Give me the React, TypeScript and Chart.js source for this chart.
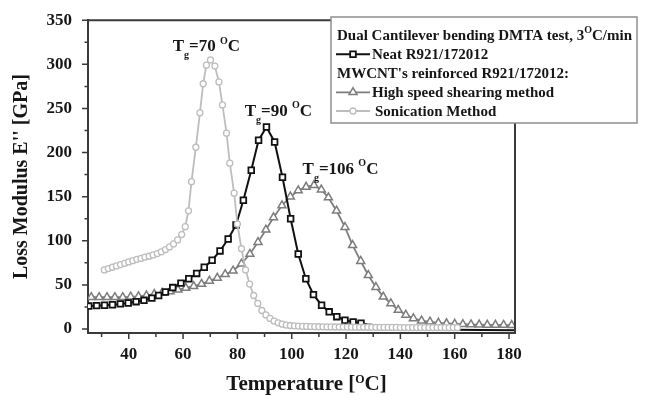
import React, { useEffect, useRef } from 'react';
import { Chart, registerables } from 'chart.js';

Chart.register(...registerables);

// ---------------- data ----------------
const neatT = [25.3, 28.2, 31.1, 34, 36.9, 39.8, 42.7, 45.6, 48.5, 51, 53.5, 56.2, 59.2, 62.1, 65, 67.8, 70.7, 73.6, 76.6, 79.5, 82.2, 85.1, 87.8, 90.7, 93.7, 96.6, 99.6, 102.4, 105.2, 108, 111, 113.8, 116.6, 119.6, 122.6, 125.5, 128.5, 131.5, 134.5, 138, 142, 146, 150, 155, 160, 170, 182];
const neatV = [26, 26.5, 27, 27.5, 28.5, 29.5, 31, 32.5, 35, 38, 42, 47, 52, 57, 63, 70, 78, 88.5, 102, 118, 146, 180, 214, 229, 212, 172, 125, 85, 57, 39, 27, 19.5, 14, 10, 8, 6.5, 5, 4, 3, 2.2, 1.4, 0.8, 0.3, -0.3, -0.8, -1.2, -1.5];
const neatMarkedUntil = 126;

const shearT = [26.2, 29.1, 32, 34.9, 37.8, 40.7, 43.6, 46.5, 49.4, 52.3, 55.2, 58.1, 61, 63.9, 66.8, 69.7, 72.6, 75.5, 78.4, 81.5, 84.6, 87.6, 90.5, 93.3, 96.4, 99.5, 102.4, 105.3, 108.2, 110.9, 113.5, 116.5, 119.6, 122.4, 125.4, 128.2, 131, 133.7, 136.5, 139.2, 142, 144.8, 147.8, 150.9, 154, 157, 160, 163, 166, 169, 172, 175, 178, 181];
const shearV = [36, 36, 36, 36, 36, 36.5, 37, 38, 39.5, 41, 42.5, 44.5, 46.5, 48.5, 51, 54.5, 58, 62, 66, 74, 85, 98.5, 112.5, 126.5, 140, 150, 157, 161, 163, 158, 149, 134, 115.5, 95, 77, 61, 47.5, 36.5, 29, 21.5, 16, 12, 9.5, 8.2, 7, 6.3, 5.8, 5.4, 5.1, 4.9, 4.7, 4.6, 4.5, 4.4];

const sonT = [31, 32.5, 34, 35.5, 37, 38.5, 40, 41.5, 43, 44.5, 46, 47.5, 49, 50.5, 52, 53.5, 55, 56.5, 58, 59.5, 60.8, 62, 63.1, 64.7, 66.2, 67.4, 68.6, 70.1, 71.7, 73.2, 74.5, 76, 77.2, 78.8, 80, 81.5, 83, 84.5, 86, 87.5, 89, 90.5, 92, 93.5, 95, 96.5, 98, 99.5, 101, 102.5, 104, 105.5, 107, 108.5, 110, 111.5, 113, 114.5, 116, 117.5, 119, 120.5, 122, 123.5, 125, 126.5, 128, 129.5, 131, 132.5, 134, 135.5, 137, 138.5, 140, 141.5, 143, 144.5, 146, 147.5, 149, 150.5, 152, 153.5, 155, 156.5, 158, 159.5, 161];
const sonV = [67, 68.5, 70, 71.5, 73, 74.5, 76, 77.5, 79, 80, 81.5, 82.5, 84, 85.5, 87.5, 90, 93, 96.5, 101, 107, 116, 134, 167, 206, 245, 278, 299, 305, 298, 280, 254, 222, 188, 154, 119, 91, 67, 51, 38, 29, 21, 16, 12, 9, 7, 5.5, 4.5, 4, 3.6, 3.3, 3.1, 2.9, 2.8, 2.7, 2.6, 2.5, 2.4, 2.4, 2.3, 2.3, 2.2, 2.2, 2.1, 2.1, 2, 2, 2, 1.9, 1.9, 1.9, 1.8, 1.8, 1.8, 1.8, 1.7, 1.7, 1.7, 1.7, 1.7, 1.6, 1.6, 1.6, 1.6, 1.6, 1.6, 1.5, 1.5, 1.5, 1.5];

const seriesLabels = ['Neat R921/172012', 'High speed shearing method', 'Sonication Method'];
const legendHeader = 'Dual Cantilever bending DMTA test, 3';
const legendHeaderTail = 'C/min';
const legendSubHeader = "MWCNT's reinforced R921/172012:";

const xTickValues = [40, 60, 80, 100, 120, 140, 160, 180];
const xMinorValues = [30, 50, 70, 90, 110, 130, 150, 170];
const yTickValues = [0, 50, 100, 150, 200, 250, 300, 350];
const yMinorValues = [25, 75, 125, 175, 225, 275, 325];

const xTitleMain = 'Temperature [';
const xTitleTail = 'C]';
const yTitle = "Loss Modulus E'' [GPa]";

// Tg annotations: anchor (temperature, modulus) of the text baseline start
const tgAnchorT = [56.2, 82.7, 104];
const tgAnchorV = [315, 241.5, 176];
const tgValues = ['70', '90', '106'];

// ---------------- styles ----------------
const FONT = '"Liberation Serif", "Times New Roman", serif';
const AXIS_COLOR = '#3a3a3a';
const TEXT_COLOR = '#161616';
const NEAT_COLOR = '#111111';
const SHEAR_COLOR = '#7d7d7d';
const SON_COLOR = '#bdbdbd';

type Part = { t: string; size: number; dy: number };

function drawRich(ctx: CanvasRenderingContext2D, x: number, y: number, parts: Part[]) {
  let cx = x;
  for (const p of parts) {
    ctx.font = `bold ${p.size}px ${FONT}`;
    ctx.fillText(p.t, cx, y + p.dy);
    cx += ctx.measureText(p.t).width;
  }
  return cx - x;
}

function richWidth(ctx: CanvasRenderingContext2D, parts: Part[]) {
  let w = 0;
  for (const p of parts) {
    ctx.font = `bold ${p.size}px ${FONT}`;
    w += ctx.measureText(p.t).width;
  }
  return w;
}

function drawMarker(ctx: CanvasRenderingContext2D, style: string, x: number, y: number, r: number, color: string, lw: number) {
  ctx.save();
  ctx.fillStyle = '#ffffff';
  ctx.strokeStyle = color;
  ctx.lineWidth = lw;
  ctx.beginPath();
  if (style === 'rect') {
    const s = Math.SQRT1_2 * r;
    ctx.rect(x - s, y - s, 2 * s, 2 * s);
  } else if (style === 'triangle') {
    ctx.moveTo(x, y - r);
    ctx.lineTo(x + r * Math.sin(Math.PI / 3), y + r * 0.5);
    ctx.lineTo(x - r * Math.sin(Math.PI / 3), y + r * 0.5);
    ctx.closePath();
  } else {
    ctx.arc(x, y, r, 0, Math.PI * 2);
  }
  ctx.fill();
  ctx.stroke();
  ctx.restore();
}

const decorPlugin = {
  id: 'decor',
  afterDraw(chart: any) {
    const ctx: CanvasRenderingContext2D = chart.ctx;
    const { left, right, top, bottom } = chart.chartArea;
    const xs = chart.scales.x;
    const ys = chart.scales.y;
    ctx.save();

    // frame (top + right)
    ctx.strokeStyle = AXIS_COLOR;
    ctx.lineWidth = 2;
    ctx.beginPath();
    ctx.moveTo(left, top);
    ctx.lineTo(right, top);
    ctx.lineTo(right, bottom);
    ctx.stroke();

    // ticks
    ctx.lineWidth = 1.5;
    ctx.beginPath();
    for (const v of yTickValues) {
      const y = ys.getPixelForValue(v);
      ctx.moveTo(left - 6, y);
      ctx.lineTo(left, y);
    }
    for (const v of yMinorValues) {
      const y = ys.getPixelForValue(v);
      ctx.moveTo(left - 3.5, y);
      ctx.lineTo(left, y);
    }
    for (const v of xTickValues) {
      const x = xs.getPixelForValue(v);
      ctx.moveTo(x, bottom);
      ctx.lineTo(x, bottom + 6);
    }
    for (const v of xMinorValues) {
      const x = xs.getPixelForValue(v);
      ctx.moveTo(x, bottom);
      ctx.lineTo(x, bottom + 4);
    }
    ctx.stroke();

    ctx.fillStyle = TEXT_COLOR;
    ctx.textAlign = 'left';
    ctx.textBaseline = 'alphabetic';

    // x title
    const xParts: Part[] = [
      { t: xTitleMain, size: 21, dy: 0 },
      { t: 'O', size: 12, dy: -6.5 },
      { t: xTitleTail, size: 21, dy: 0 },
    ];
    const xw = richWidth(ctx, xParts);
    drawRich(ctx, (left + right) / 2 + 5 - xw / 2, 389.5, xParts);

    // Tg annotations
    for (let i = 0; i < tgValues.length; i++) {
      const ax = xs.getPixelForValue(tgAnchorT[i]);
      const ay = ys.getPixelForValue(tgAnchorV[i]);
      drawRich(ctx, ax, ay, [
        { t: 'T', size: 17, dy: 0 },
        { t: 'g', size: 10, dy: 7 },
        { t: '=' + tgValues[i] + ' ', size: 17, dy: 0 },
        { t: 'O', size: 10, dy: -7.5 },
        { t: 'C', size: 17, dy: 0 },
      ]);
    }

    // legend box
    const bx = 331, by = 17, bw = 306, bh = 106;
    ctx.fillStyle = '#ffffff';
    ctx.fillRect(bx, by, bw, bh);
    ctx.strokeStyle = '#8f8f8f';
    ctx.lineWidth = 1.5;
    ctx.strokeRect(bx, by, bw, bh);

    ctx.fillStyle = TEXT_COLOR;
    const tx = bx + 6;
    const base = [40, 59.3, 78.3, 97.3, 116];
    drawRich(ctx, tx, base[0], [
      { t: legendHeader, size: 15, dy: 0 },
      { t: 'O', size: 10, dy: -7.5 },
      { t: legendHeaderTail, size: 15, dy: 0 },
    ]);
    ctx.font = `bold 15px ${FONT}`;
    ctx.fillText(legendSubHeader, tx, base[2]);

    const ds = chart.data.datasets;
    const entries = [
      { d: ds[0], row: 1, textX: bx + 41 },
      { d: ds[1], row: 3, textX: bx + 41 },
      { d: ds[2], row: 4, textX: bx + 44 },
    ];
    for (const e of entries) {
      const ly = base[e.row] - 5;
      ctx.strokeStyle = e.d.borderColor;
      ctx.lineWidth = e.d.borderWidth;
      ctx.beginPath();
      ctx.moveTo(bx + 5, ly);
      ctx.lineTo(bx + 39, ly);
      ctx.stroke();
      drawMarker(ctx, e.d.pointStyle, bx + 22, ly, e.d.legendRadius, e.d.borderColor, e.d.pointBorderWidth);
      ctx.fillStyle = TEXT_COLOR;
      ctx.font = `bold 15px ${FONT}`;
      ctx.fillText(e.d.label, e.textX, base[e.row]);
    }

    ctx.restore();
  },
};

function toPoints(xs: number[], ys: number[]) {
  return xs.map((x, i) => ({ x, y: ys[i] }));
}

export default function App() {
  const ref = useRef<HTMLCanvasElement | null>(null);

  useEffect(() => {
    document.body.style.margin = '0';
    const canvas = ref.current;
    if (!canvas) return;
    const tickFont = { family: FONT, size: 17, weight: 'bold' as const };

    const chart = new Chart(canvas, {
      type: 'scatter',
      data: {
        datasets: [
          {
            label: seriesLabels[0],
            data: toPoints(neatT, neatV),
            showLine: true,
            borderColor: NEAT_COLOR,
            borderWidth: 2,
            pointStyle: 'rect',
            pointRadius: (c: any) => (c.raw && c.raw.x <= neatMarkedUntil ? 4 : 0),
            legendRadius: 4,
            pointBorderWidth: 1.8,
            pointBackgroundColor: '#ffffff',
            pointBorderColor: NEAT_COLOR,
            tension: 0,
            order: 1,
          } as any,
          {
            label: seriesLabels[1],
            data: toPoints(shearT, shearV),
            showLine: true,
            borderColor: SHEAR_COLOR,
            borderWidth: 1.8,
            pointStyle: 'triangle',
            pointRadius: 4.6,
            legendRadius: 4.6,
            pointBorderWidth: 1.5,
            pointBackgroundColor: '#ffffff',
            pointBorderColor: SHEAR_COLOR,
            tension: 0,
            order: 2,
          } as any,
          {
            label: seriesLabels[2],
            data: toPoints(sonT, sonV),
            showLine: true,
            borderColor: SON_COLOR,
            borderWidth: 1.8,
            pointStyle: 'circle',
            pointRadius: 3,
            legendRadius: 3,
            pointBorderWidth: 1.3,
            pointBackgroundColor: '#ffffff',
            pointBorderColor: SON_COLOR,
            tension: 0,
            order: 0,
          } as any,
        ],
      },
      options: {
        animation: false,
        responsive: false,
        devicePixelRatio: 1,
        layout: { padding: { top: 19, right: 131, bottom: 0, left: 0 } },
        plugins: { legend: { display: false }, tooltip: { enabled: false } },
        scales: {
          x: {
            type: 'linear',
            min: 25,
            max: 182.2,
            afterFit: (s: any) => { s.height = 62; },
            afterBuildTicks: (s: any) => { s.ticks = xTickValues.map((v) => ({ value: v })); },
            grid: { drawOnChartArea: false, drawTicks: true, tickLength: 6, color: 'rgba(0,0,0,0)' },
            border: { display: true, color: AXIS_COLOR, width: 2 },
            ticks: { font: tickFont, color: TEXT_COLOR, padding: 5, maxRotation: 0, autoSkip: false },
            title: { display: false },
          },
          y: {
            type: 'linear',
            min: -4.5,
            max: 350,
            afterFit: (s: any) => { s.width = 88; },
            afterBuildTicks: (s: any) => { s.ticks = yTickValues.map((v) => ({ value: v })); },
            grid: { drawOnChartArea: false, drawTicks: true, tickLength: 6, color: 'rgba(0,0,0,0)' },
            border: { display: true, color: AXIS_COLOR, width: 2 },
            ticks: { font: tickFont, color: TEXT_COLOR, padding: 10, autoSkip: false },
            title: {
              display: true,
              text: yTitle,
              color: TEXT_COLOR,
              font: { family: FONT, size: 20, weight: 'bold' },
              padding: { top: 10, bottom: 0 },
            },
          },
        },
      } as any,
      plugins: [decorPlugin],
    });
    return () => chart.destroy();
  }, []);

  return (
    <div style={{ width: 646, height: 395 }}>
      <canvas ref={ref} width={646} height={395} style={{ display: 'block' }} />
    </div>
  );
}
